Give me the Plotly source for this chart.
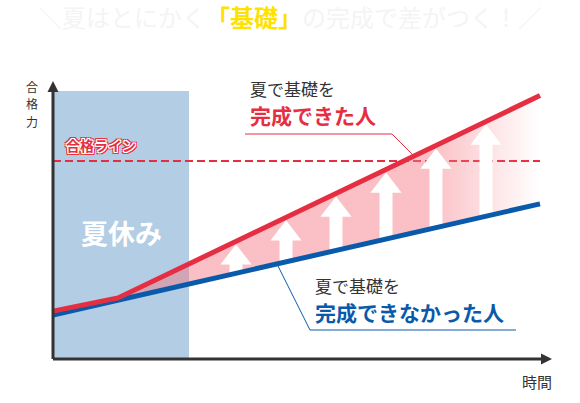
import numpy as np
import plotly.graph_objects as go

# 時間軸上の点と合格力（0〜100 の相対値）
time = [0, 13, 97.4]
red_vals = [17.1, 21.8, 94.1]     # 夏で基礎を完成できた人
blue_vals = [15.7, 21.0, 55.4]    # 夏で基礎を完成できなかった人
pass_line = 70.7                  # 合格ライン
summer_end = 27.2                 # 夏休みの終わり
summer_top = 95.7
arrow_x = [36.6, 46.6, 56.6, 66.6, 76.6, 86.6]

RED = '#e62e42'
BLUE = '#0a5aab'
DARK = '#333333'
PINK = '245,120,130'

# 1単位あたりのピクセル数（x: 5px, y: 2.8px）、原点は (53px, 359px)
PX_X, PX_Y = 5.0, 2.8


def dx(px):
    return (px - 53) / PX_X


def dy(py):
    return (359 - py) / PX_Y


red_at = np.interp(arrow_x, time, red_vals)
blue_at = np.interp(arrow_x, time, blue_vals)
tip = red_at - 3 / PX_Y
head_y = tip - 13.5 / PX_Y
shaft_top = tip - 19 / PX_Y

fig = go.Figure()

# 合格ライン（破線）
fig.add_trace(go.Scatter(
    x=[time[0], time[-1]], y=[pass_line, pass_line], mode='lines',
    line=dict(color=RED, width=2, dash='8px,4px'), hoverinfo='skip'))

# 2本の線の間の塗り（右端で白へフェード）
fill_x = time[1:] + time[1:][::-1]
fill_y = red_vals[1:] + blue_vals[1:][::-1]
fig.add_trace(go.Scatter(
    x=fill_x, y=fill_y, mode='lines', fill='toself', line=dict(width=0),
    fillgradient=dict(
        type='horizontal',
        colorscale=[[0, f'rgba({PINK},0.47)'], [0.74, f'rgba({PINK},0.47)'],
                    [0.9, f'rgba({PINK},0.18)'], [1, f'rgba({PINK},0)']]),
    hoverinfo='skip'))

# 上向きの白矢印（軸 + 三角）
shaft_x, shaft_y = [], []
for x, b, t in zip(arrow_x, blue_at, shaft_top):
    shaft_x += [x, x, None]
    shaft_y += [b, t, None]
fig.add_trace(go.Scatter(x=shaft_x, y=shaft_y, mode='lines',
                         line=dict(color='white', width=13), hoverinfo='skip'))
fig.add_trace(go.Scatter(
    x=arrow_x, y=head_y, mode='markers',
    marker=dict(symbol='triangle-up', size=27, color='white', line=dict(width=0)),
    hoverinfo='skip'))

# 2本の線
fig.add_trace(go.Scatter(x=time, y=blue_vals, mode='lines',
                         line=dict(color=BLUE, width=5), hoverinfo='skip'))
fig.add_trace(go.Scatter(x=time, y=red_vals, mode='lines',
                         line=dict(color=RED, width=5), hoverinfo='skip'))

# 軸の矢印
fig.add_trace(go.Scatter(
    x=[0, dx(552)], y=[dy(81), 0], mode='markers', cliponaxis=False,
    marker=dict(symbol=['arrow-up', 'arrow-right'], size=11, color=DARK,
                line=dict(width=0)),
    hoverinfo='skip'))

fig.update_layout(
    width=580, height=403,
    margin=dict(l=0, r=0, t=0, b=0),
    paper_bgcolor='white', plot_bgcolor='white',
    font=dict(family='Noto Sans CJK JP, sans-serif', color=DARK),
    showlegend=False,
    xaxis=dict(range=[dx(0), dx(580)], visible=False, fixedrange=True),
    yaxis=dict(range=[dy(403), dy(0)], visible=False, fixedrange=True),
    shapes=[
        dict(type='rect', x0=0, x1=summer_end, y0=0, y1=summer_top,
             fillcolor='#b3cde4', line=dict(width=0), layer='below'),
        dict(type='line', x0=0, x1=0, y0=0, y1=dy(88),
             line=dict(color=DARK, width=3), layer='above'),
        dict(type='line', x0=0, x1=dx(543), y0=0, y1=0,
             line=dict(color=DARK, width=3), layer='above'),
        dict(type='path',
             path=f'M{dx(245)},{dy(134)} L{dx(392)},{dy(134)} L{dx(413)},{dy(155)}',
             line=dict(color=RED, width=1)),
        dict(type='path',
             path=f'M{dx(278)},{dy(266)} L{dx(310)},{dy(330)} L{dx(516)},{dy(330)}',
             line=dict(color=BLUE, width=1)),
    ],
)

outline = ', '.join(
    [f'{a}px {b}px 0 #fff' for a, b in [(1, 0), (-1, 0), (0, 1), (0, -1),
                                         (1, 1), (-1, -1), (1, -1), (-1, 1)]] +
    [f'{a}px {b}px 0 {RED}' for a, b in [(2, 0), (-2, 0), (0, 2), (0, -2),
                                         (2, 2), (-2, -2), (2, -2), (-2, 2)]])

annotations = [
    dict(x=dx(290), y=dy(16),
         text='＼夏はとにかく<span style="color:#ffe100"><b>「基礎」</b></span>の完成で差がつく！／',
         font=dict(size=24, color='#f4f4f4')),
    dict(x=dx(537), y=dy(381), text='時間', font=dict(size=15, color=DARK)),
    dict(x=dx(101), y=dy(145), text='<b>合格ライン</b>',
         font=dict(size=14, color=RED, shadow=outline)),
    dict(x=dx(121), y=dy(232), text='<b>夏休み</b>', font=dict(size=27, color='white')),
    dict(x=dx(248), y=dy(88), xanchor='left', text='夏で基礎を',
         font=dict(size=17, color=DARK)),
    dict(x=dx(248), y=dy(115), xanchor='left', text='<b>完成できた人</b>',
         font=dict(size=21, color=RED)),
    dict(x=dx(313), y=dy(285), xanchor='left', text='夏で基礎を',
         font=dict(size=17, color=DARK)),
    dict(x=dx(313), y=dy(312), xanchor='left', text='<b>完成できなかった人</b>',
         font=dict(size=21, color=BLUE)),
]
# 縦書きの軸ラベル「合格力」は1文字ずつ置く
for ch, py in zip('合格力', [86, 103.5, 121]):
    annotations.append(dict(x=dx(32), y=dy(py), text=ch, borderpad=0,
                            font=dict(size=12, color=DARK)))
for a in annotations:
    a.update(xref='x', yref='y', showarrow=False)
fig.update_layout(annotations=annotations)

# ページ既定の余白をなくして図をウィンドウ左上に合わせる
fig.write_html("out.html", config={'displayModeBar': False},
               post_script="document.body.style.margin='0';")
